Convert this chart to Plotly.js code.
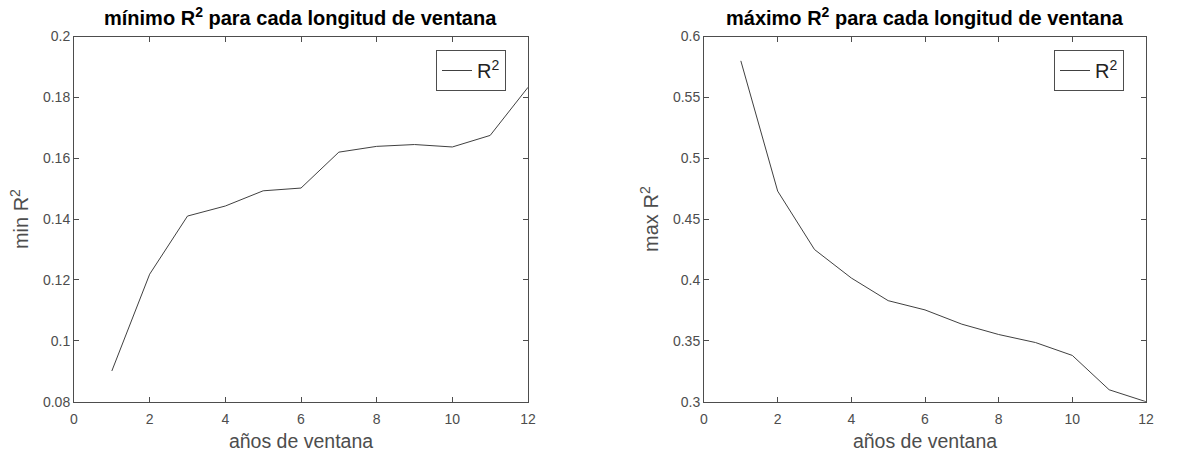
<!DOCTYPE html>
<html>
<head>
<meta charset="utf-8">
<script src="https://cdn.plot.ly/plotly-3.0.1.min.js"></script>
<style>html,body{margin:0;padding:0;background:#fff;}#chart{width:1196px;height:457px;}</style>
</head>
<body>
<div id="chart"></div>
<script>
const years = [1, 2, 3, 4, 5, 6, 7, 8, 9, 10, 11, 12];
const minR2 = [0.0901, 0.1219, 0.1410, 0.1443, 0.1493, 0.1502, 0.1620, 0.1639, 0.1645, 0.1637, 0.1675, 0.1833];
const maxR2 = [0.580, 0.473, 0.425, 0.4016, 0.383, 0.3754, 0.3637, 0.3552, 0.3486, 0.338, 0.3098, 0.300];
const xTicks = [0, 2, 4, 6, 8, 10, 12];
const minTicks = [0.08, 0.1, 0.12, 0.14, 0.16, 0.18, 0.2];
const maxTicks = [0.3, 0.35, 0.4, 0.45, 0.5, 0.55, 0.6];

const FONT = 'Liberation Sans, Arial, sans-serif';
const AX = '#4d4d4d';
const LINE = '#404040';

const traces = [
  {x: years, y: minR2, type: 'scatter', mode: 'lines', name: 'R<sup>2</sup>',
   line: {color: LINE, width: 1}, xaxis: 'x', yaxis: 'y', legend: 'legend'},
  {x: years, y: maxR2, type: 'scatter', mode: 'lines', name: 'R<sup>2</sup>',
   line: {color: LINE, width: 1}, xaxis: 'x2', yaxis: 'y2', legend: 'legend2'}
];

function xa(domain, anchor) {
  return {domain: domain, anchor: anchor, range: [0, 12], tickvals: xTicks, ticktext: xTicks.map(String),
    ticks: 'inside', ticklen: 5, tickcolor: AX, showline: true, linecolor: AX, linewidth: 1,
    mirror: 'allticks', showgrid: false, zeroline: false, ticklabelstandoff: 4,
    tickfont: {family: FONT, size: 14, color: AX},
    title: {text: 'años de ventana', font: {family: FONT, size: 19.5, color: AX}, standoff: 8}};
}
function ya(domain, anchor, range, ticks, title) {
  return {domain: domain, anchor: anchor, range: range, tickvals: ticks, ticktext: ticks.map(String),
    ticks: 'inside', ticklen: 5, tickcolor: AX, showline: true, linecolor: AX, linewidth: 1,
    mirror: 'allticks', showgrid: false, zeroline: false,
    tickfont: {family: FONT, size: 14, color: AX},
    title: {text: title, font: {family: FONT, size: 20, color: AX}, standoff: 8}};
}

const yDom = [1 - 401.7 / 457, 1 - 36.5 / 457];
const layout = {
  width: 1196, height: 457,
  margin: {l: 0, r: 0, t: 0, b: 0},
  paper_bgcolor: '#fff', plot_bgcolor: '#fff',
  showlegend: true,
  xaxis: xa([74 / 1196, 528 / 1196], 'y'),
  yaxis: ya(yDom, 'x', [0.08, 0.2], minTicks, 'min R<sup>2</sup>'),
  xaxis2: xa([704 / 1196, 1146 / 1196], 'y2'),
  yaxis2: ya(yDom, 'x2', [0.3, 0.6], maxTicks, 'max R<sup>2</sup>'),
  legend: {x: 506 / 1196, y: 1 - 50 / 457, xanchor: 'right', yanchor: 'top',
    bordercolor: AX, borderwidth: 1, bgcolor: '#fff',
    font: {family: FONT, size: 20, color: '#222'}, itemwidth: 30},
  legend2: {x: 1124 / 1196, y: 1 - 50 / 457, xanchor: 'right', yanchor: 'top',
    bordercolor: AX, borderwidth: 1, bgcolor: '#fff',
    font: {family: FONT, size: 20, color: '#222'}, itemwidth: 30},
  annotations: [
    {text: '<b>mínimo R<sup>2</sup> para cada longitud de ventana</b>', xref: 'paper', yref: 'paper',
     x: 300 / 1196, y: 1 - 31 / 457, xanchor: 'center', yanchor: 'bottom', showarrow: false,
     font: {family: FONT, size: 20, color: '#000'}},
    {text: '<b>máximo R<sup>2</sup> para cada longitud de ventana</b>', xref: 'paper', yref: 'paper',
     x: 925 / 1196, y: 1 - 31 / 457, xanchor: 'center', yanchor: 'bottom', showarrow: false,
     font: {family: FONT, size: 20, color: '#000'}}
  ]
};

Plotly.newPlot('chart', traces, layout, {displayModeBar: false, staticPlot: true});
</script>
</body>
</html>
